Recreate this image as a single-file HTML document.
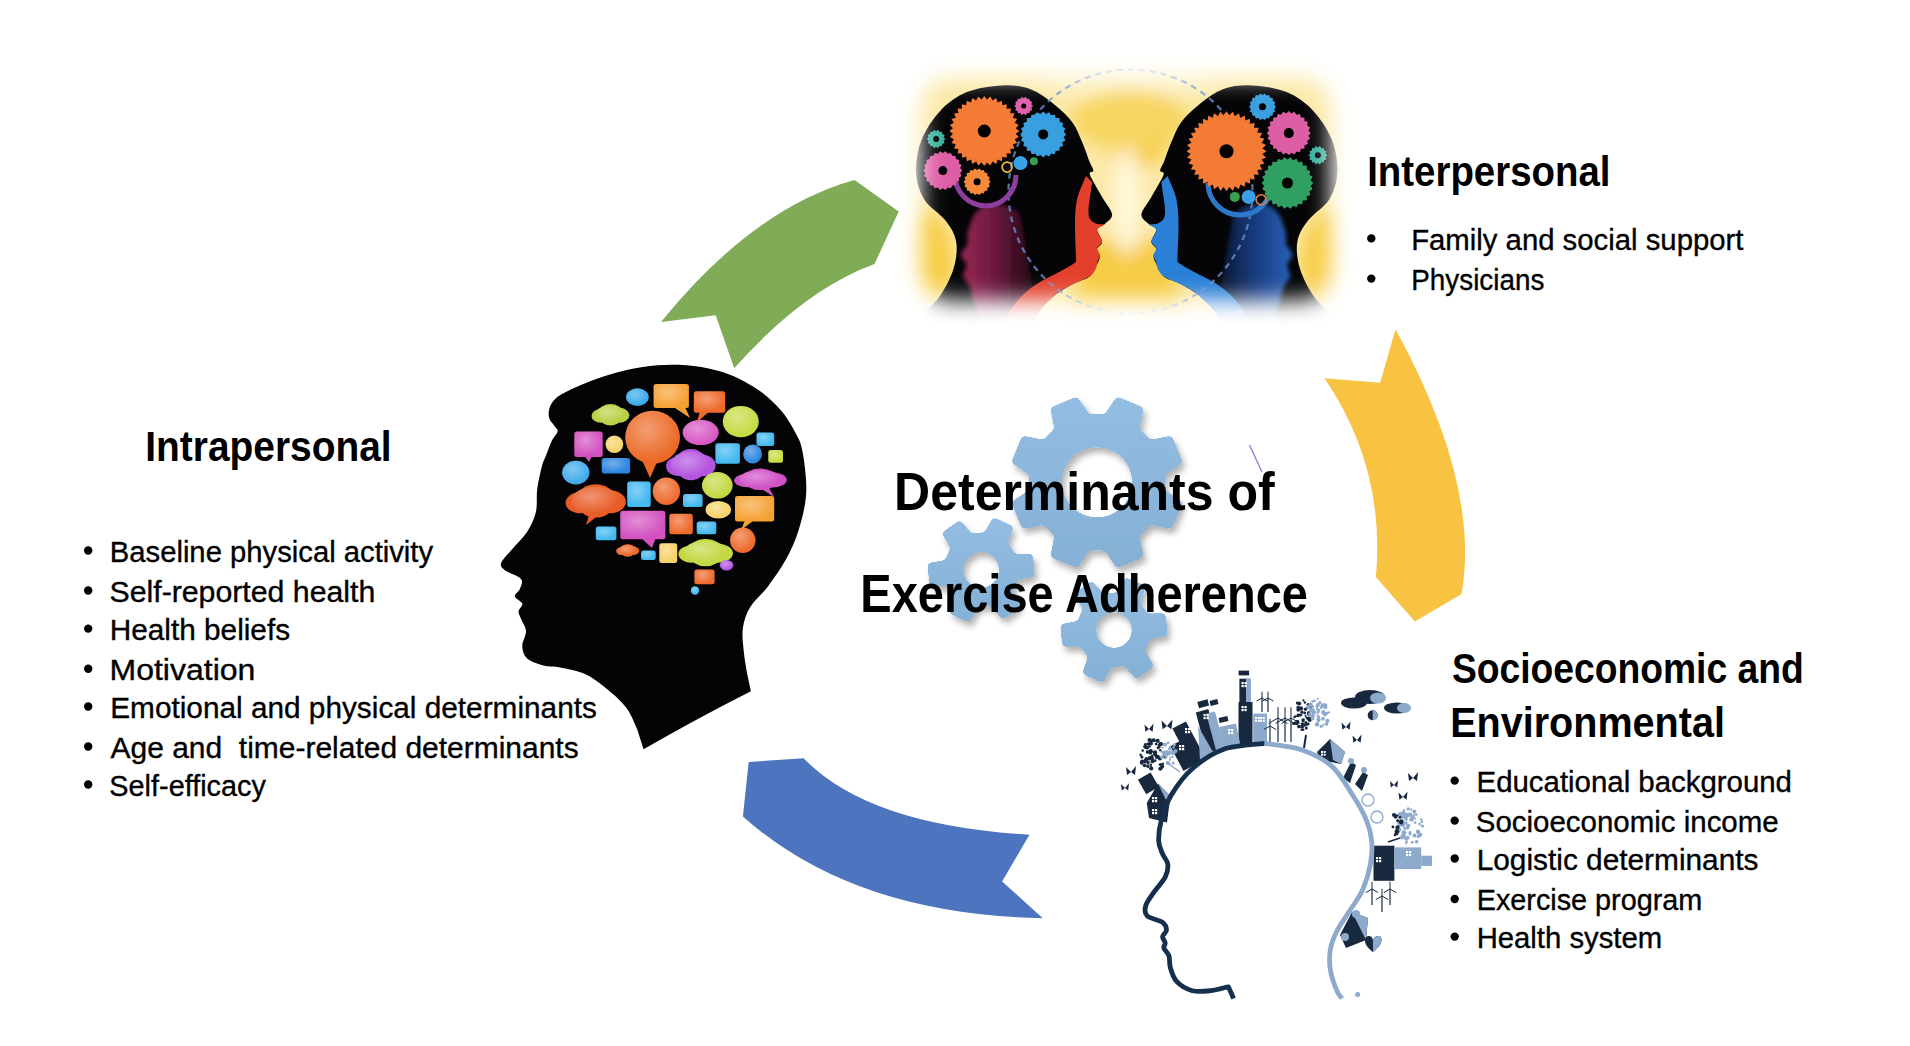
<!DOCTYPE html>
<html><head><meta charset="utf-8"><style>
html,body{margin:0;padding:0;background:#fff;width:1910px;height:1046px;overflow:hidden;}
svg{display:block;font-family:"Liberation Sans",sans-serif;}
</style></head><body><svg width="1910" height="1046" viewBox="0 0 1910 1046"><defs>
<filter id="gsh" x="-20%" y="-20%" width="140%" height="140%"><feGaussianBlur in="SourceGraphic" stdDeviation="2.2" result="b"/><feColorMatrix in="b" type="matrix" values="1 0 0 0 0  0 1 0 0 0  0 0 1 0 0  0 0 0 16 -7" result="g"/><feDropShadow in="g" dx="3" dy="5" stdDeviation="3" flood-color="#000" flood-opacity="0.3"/></filter>
<radialGradient id="hl" cx="0.4" cy="0.35" r="0.6"><stop offset="0" stop-color="#fff" stop-opacity="0.35"/><stop offset="1" stop-color="#fff" stop-opacity="0"/></radialGradient>
<linearGradient id="gg" x1="0" y1="0" x2="0" y2="1"><stop offset="0" stop-color="#93bde2"/><stop offset="1" stop-color="#85b0d5"/></linearGradient>

<linearGradient id="mar" x1="955" y1="0" x2="1035" y2="0" gradientUnits="userSpaceOnUse"><stop offset="0" stop-color="#a02858"/><stop offset="0.5" stop-color="#6a1840"/><stop offset="1" stop-color="#200810"/></linearGradient>
<linearGradient id="nav" x1="955" y1="0" x2="1035" y2="0" gradientUnits="userSpaceOnUse"><stop offset="0" stop-color="#2a68c0"/><stop offset="0.5" stop-color="#1a3f85"/><stop offset="1" stop-color="#0a1530"/></linearGradient>
<radialGradient id="ybg" cx="1127" cy="195" r="240" gradientUnits="userSpaceOnUse" gradientTransform="translate(1127 195) scale(1 0.7) translate(-1127 -195)">
<stop offset="0" stop-color="#fdf2c0"/><stop offset="0.35" stop-color="#fae08a"/><stop offset="0.75" stop-color="#f7cf48"/><stop offset="1" stop-color="#f9dc70"/></radialGradient>
<filter id="bl2"><feGaussianBlur stdDeviation="2"/></filter>
<filter id="bl4" x="-50%" y="-50%" width="200%" height="200%"><feGaussianBlur stdDeviation="5"/></filter>
<filter id="bl8" x="-30%" y="-30%" width="160%" height="160%"><feGaussianBlur stdDeviation="9"/></filter>
<filter id="bl12" x="-20%" y="-20%" width="140%" height="140%"><feGaussianBlur stdDeviation="11"/></filter>
<mask id="vig" maskUnits="userSpaceOnUse" x="860" y="30" width="540" height="340"><rect x="921" y="78" width="410" height="222" rx="30" fill="#fff" filter="url(#bl12)"/></mask>
</defs>
<path d="M661,322 Q753.6,207.8 854.6,180 L898.7,211.5 L874.5,264.1 Q803.85,289.85 734.2,368.2 L715.7,315.2 Z" fill="#80ac57"/>
<path d="M1395.5,329.2 Q1480.65,484.45 1461.6,593.9 L1414.8,621.5 L1375.9,577.1 Q1385.8,468.35 1324.5,378.2 L1380.2,382.7 Z" fill="#f8c243"/>
<path d="M748.7,762 L803.6,758.2 Q867.7,825.15 1029.4,834.7 L1002.1,881.5 L1042.8,918.2 Q853.15,914.85 742.9,816.5 Z" fill="#4c74bf"/>
<g mask="url(#vig)">
<rect x="880" y="50" width="490" height="300" fill="#fbe9a8"/>
<g filter="url(#bl8)">
<ellipse cx="925" cy="265" rx="28" ry="55" fill="#f7ca3c"/>
<ellipse cx="1330" cy="265" rx="28" ry="55" fill="#f7ca3c"/>
<path d="M1108,88 L1165,88 L1170,150 L1140,172 L1112,160 Z" fill="#f7c93a"/>
<path d="M1085,240 L1170,240 L1185,320 L1070,320 Z" fill="#f7cc45"/>
<ellipse cx="1127" cy="200" rx="14" ry="55" fill="#fff8dc"/>
<ellipse cx="1127" cy="80" rx="90" ry="20" fill="#fcefc0"/>
<ellipse cx="1130" cy="120" rx="60" ry="30" fill="#f8d560"/>
</g>
<g id="ihl">
<path d="M905,345 C907.7,340.3 915.5,325.2 921.4,317.0 C927.3,308.8 934.9,303.6 940.2,295.6 C945.6,287.6 950.8,277.7 953.5,268.8 C956.2,259.9 957.5,250.0 956.2,242.0 C954.9,234.0 950.9,227.7 945.5,220.6 C940.1,213.5 929.0,207.2 924.1,199.2 C919.2,191.2 916.6,182.2 916.1,172.4 C915.6,162.6 917.4,150.6 921.4,140.3 C925.4,130.1 932.6,118.9 940.2,110.9 C947.8,102.9 956.6,96.3 966.9,92.1 C977.1,87.8 991.2,85.9 1001.7,85.4 C1012.2,84.9 1021.1,85.8 1030.0,89.0 C1038.9,92.2 1047.9,99.4 1054.9,104.9 C1062.0,110.5 1067.8,116.1 1072.3,122.3 C1076.8,128.5 1079.3,135.6 1082.2,142.2 C1085.1,148.8 1087.8,157.3 1089.7,162.1 C1091.6,166.9 1093.4,168.7 1093.4,170.8 C1093.5,173.0 1088.5,170.7 1090.0,175.0 C1091.5,179.3 1098.4,190.3 1102.1,196.9 C1105.8,203.5 1111.7,209.8 1112.1,214.3 C1112.5,218.9 1107.1,221.7 1104.6,224.2 C1102.1,226.7 1097.5,226.3 1097.1,229.2 C1096.7,232.1 1102.1,238.4 1102.1,241.7 C1102.1,245.0 1097.4,246.7 1097.1,249.1 C1096.8,251.5 1100.0,253.5 1100.0,256.0 C1100.0,258.5 1098.8,260.6 1097.1,264.0 C1095.4,267.4 1093.4,273.3 1089.7,276.5 C1086.0,279.7 1080.8,279.9 1075.0,283.0 C1069.2,286.1 1060.8,290.5 1055.0,295.0 C1049.2,299.5 1044.5,304.2 1040.0,310.0 C1035.5,315.8 1031.3,324.2 1028.0,330.0 C1024.7,335.8 1021.3,342.5 1020.0,345.0 Z" fill="#050507"/>
<path d="M978,345 L978,316 C975,305 972,295 970,287 C966,280 962,277 963.5,274 C965,270 967,266 966,263 C962,258 960,255 962,252 C965,248 968,245 967.5,242 C967,235 968,230 970,226 C972,218 975,212 982,207 C992,201 1010,204 1020,214 L1035,300 L1030,345 Z" fill="url(#mar)" filter="url(#bl2)"/>
<path d="M1086,176 L1092,182 C1091,195 1087,208 1089,217 C1091,223 1098,225 1104.6,224.2 C1101,227 1097,228 1097.1,231 C1098,235 1102,238 1102.1,241.7 C1101,245 1097,246 1097.1,249.1 C1098,252 1100,253 1100,256 C1099,259 1097,261 1097.1,264 C1096,270 1093,274 1089.7,276.5 C1083,280 1078,282 1075,283 C1068,287 1060,290 1055,295 C1050,300 1044,305 1040,310 C1035,317 1031,323 1028,330 L1020,345 L995,345 C1000,330 1006,318 1012,308 C1020,296 1030,288 1040,282 C1055,274 1068,268 1076,262 C1076,250 1075,240 1075,225 C1075,210 1076,200 1080,190 Z" fill="#e2402c"/>
</g>
<g transform="translate(2253.5,0) scale(-1,1)">
<path d="M905,345 C907.7,340.3 915.5,325.2 921.4,317.0 C927.3,308.8 934.9,303.6 940.2,295.6 C945.6,287.6 950.8,277.7 953.5,268.8 C956.2,259.9 957.5,250.0 956.2,242.0 C954.9,234.0 950.9,227.7 945.5,220.6 C940.1,213.5 929.0,207.2 924.1,199.2 C919.2,191.2 916.6,182.2 916.1,172.4 C915.6,162.6 917.4,150.6 921.4,140.3 C925.4,130.1 932.6,118.9 940.2,110.9 C947.8,102.9 956.6,96.3 966.9,92.1 C977.1,87.8 991.2,85.9 1001.7,85.4 C1012.2,84.9 1021.1,85.8 1030.0,89.0 C1038.9,92.2 1047.9,99.4 1054.9,104.9 C1062.0,110.5 1067.8,116.1 1072.3,122.3 C1076.8,128.5 1079.3,135.6 1082.2,142.2 C1085.1,148.8 1087.8,157.3 1089.7,162.1 C1091.6,166.9 1093.4,168.7 1093.4,170.8 C1093.5,173.0 1088.5,170.7 1090.0,175.0 C1091.5,179.3 1098.4,190.3 1102.1,196.9 C1105.8,203.5 1111.7,209.8 1112.1,214.3 C1112.5,218.9 1107.1,221.7 1104.6,224.2 C1102.1,226.7 1097.5,226.3 1097.1,229.2 C1096.7,232.1 1102.1,238.4 1102.1,241.7 C1102.1,245.0 1097.4,246.7 1097.1,249.1 C1096.8,251.5 1100.0,253.5 1100.0,256.0 C1100.0,258.5 1098.8,260.6 1097.1,264.0 C1095.4,267.4 1093.4,273.3 1089.7,276.5 C1086.0,279.7 1080.8,279.9 1075.0,283.0 C1069.2,286.1 1060.8,290.5 1055.0,295.0 C1049.2,299.5 1044.5,304.2 1040.0,310.0 C1035.5,315.8 1031.3,324.2 1028.0,330.0 C1024.7,335.8 1021.3,342.5 1020.0,345.0 Z" fill="#050507"/>
<path d="M978,345 L978,316 C975,305 972,295 970,287 C966,280 962,277 963.5,274 C965,270 967,266 966,263 C962,258 960,255 962,252 C965,248 968,245 967.5,242 C967,235 968,230 970,226 C972,218 975,212 982,207 C992,201 1010,204 1020,214 L1035,300 L1030,345 Z" fill="url(#nav)" filter="url(#bl2)"/>
<path d="M1086,176 L1092,182 C1091,195 1087,208 1089,217 C1091,223 1098,225 1104.6,224.2 C1101,227 1097,228 1097.1,231 C1098,235 1102,238 1102.1,241.7 C1101,245 1097,246 1097.1,249.1 C1098,252 1100,253 1100,256 C1099,259 1097,261 1097.1,264 C1096,270 1093,274 1089.7,276.5 C1083,280 1078,282 1075,283 C1068,287 1060,290 1055,295 C1050,300 1044,305 1040,310 C1035,317 1031,323 1028,330 L1020,345 L995,345 C1000,330 1006,318 1012,308 C1020,296 1030,288 1040,282 C1055,274 1068,268 1076,262 C1076,250 1075,240 1075,225 C1075,210 1076,200 1080,190 Z" fill="#2a7fd6"/>
</g>
<circle cx="1130.5" cy="191.5" r="122" fill="none" stroke="#6a90d0" stroke-width="2.2" stroke-dasharray="6 5" opacity="0.8"/>
<path d="M985.7,205.9 A30.8,30.8 0 0 1 955,175" fill="none" stroke="#8e3f9e" stroke-width="5"/>
<path d="M1016,175 A30.8,30.8 0 0 1 985.7,205.9" fill="none" stroke="#8e3f9e" stroke-width="5"/>
<path d="M1240,215 A32,32 0 0 1 1208,183" fill="none" stroke="#2d78c8" stroke-width="5"/>
<path d="M1272,183 A32,32 0 0 1 1240,215" fill="none" stroke="#2d78c8" stroke-width="5"/>
<path d="M1019.3,131.0 L1015.7,133.7 L1018.8,137.1 L1014.7,139.2 L1017.2,143.0 L1012.8,144.3 L1014.6,148.5 L1010.1,149.1 L1011.1,153.5 L1006.6,153.3 L1006.8,157.8 L1002.4,156.8 L1001.8,161.3 L997.6,159.5 L996.3,163.9 L992.5,161.4 L990.4,165.5 L987.0,162.4 L984.3,166.0 L981.6,162.4 L978.2,165.5 L976.1,161.4 L972.3,163.9 L971.0,159.5 L966.8,161.3 L966.2,156.8 L961.8,157.8 L962.0,153.3 L957.5,153.5 L958.5,149.1 L954.0,148.5 L955.8,144.3 L951.4,143.0 L953.9,139.2 L949.8,137.1 L952.9,133.7 L949.3,131.0 L952.9,128.3 L949.8,124.9 L953.9,122.8 L951.4,119.0 L955.8,117.7 L954.0,113.5 L958.5,112.9 L957.5,108.5 L962.0,108.7 L961.8,104.2 L966.2,105.2 L966.8,100.7 L971.0,102.5 L972.3,98.1 L976.1,100.6 L978.2,96.5 L981.6,99.6 L984.3,96.0 L987.0,99.6 L990.4,96.5 L992.5,100.6 L996.3,98.1 L997.6,102.5 L1001.8,100.7 L1002.4,105.2 L1006.8,104.2 L1006.6,108.7 L1011.1,108.5 L1010.1,112.9 L1014.6,113.5 L1012.8,117.7 L1017.2,119.0 L1014.7,122.8 L1018.8,124.9 L1015.7,128.3 Z" fill="#f47b35" /><circle cx="984.3" cy="131.0" r="6.5" fill="#000"/><path d="M1066.2,134.4 L1063.7,137.1 L1065.4,140.4 L1062.3,142.3 L1063.1,145.9 L1059.6,147.0 L1059.5,150.7 L1055.8,150.8 L1054.7,154.3 L1051.1,153.5 L1049.2,156.6 L1045.9,154.9 L1043.2,157.4 L1040.5,154.9 L1037.2,156.6 L1035.3,153.5 L1031.7,154.3 L1030.6,150.8 L1026.9,150.7 L1026.8,147.0 L1023.3,145.9 L1024.1,142.3 L1021.0,140.4 L1022.7,137.1 L1020.2,134.4 L1022.7,131.7 L1021.0,128.4 L1024.1,126.5 L1023.3,122.9 L1026.8,121.8 L1026.9,118.1 L1030.6,118.0 L1031.7,114.5 L1035.3,115.3 L1037.2,112.2 L1040.5,113.9 L1043.2,111.4 L1045.9,113.9 L1049.2,112.2 L1051.1,115.3 L1054.7,114.5 L1055.8,118.0 L1059.5,118.1 L1059.6,121.8 L1063.1,122.9 L1062.3,126.5 L1065.4,128.4 L1063.7,131.7 Z" fill="#3a9fdf" /><circle cx="1043.2" cy="134.4" r="5.0" fill="#000"/><path d="M962.3,170.6 L960.2,173.1 L961.5,176.1 L958.8,177.9 L959.2,181.1 L956.1,182.1 L955.6,185.3 L952.3,185.4 L950.9,188.3 L947.7,187.4 L945.6,189.9 L942.8,188.2 L940.0,189.9 L937.9,187.4 L934.7,188.3 L933.3,185.4 L930.0,185.3 L929.5,182.1 L926.4,181.1 L926.8,177.9 L924.1,176.1 L925.4,173.1 L923.3,170.6 L925.4,168.1 L924.1,165.1 L926.8,163.3 L926.4,160.1 L929.5,159.1 L930.0,155.9 L933.3,155.8 L934.7,152.9 L937.9,153.8 L940.0,151.3 L942.8,153.0 L945.6,151.3 L947.7,153.8 L950.9,152.9 L952.3,155.8 L955.6,155.9 L956.1,159.1 L959.2,160.1 L958.8,163.3 L961.5,165.1 L960.2,168.1 Z" fill="#de5ea5" /><circle cx="942.8" cy="170.6" r="4.5" fill="#000"/><path d="M990.6,181.8 L988.8,183.9 L989.8,186.4 L987.4,187.8 L987.4,190.5 L984.7,190.9 L983.9,193.5 L981.2,193.0 L979.4,195.1 L977.1,193.7 L974.8,195.1 L973.0,193.0 L970.4,193.5 L969.5,190.9 L966.8,190.5 L966.8,187.8 L964.4,186.4 L965.4,183.9 L963.6,181.8 L965.4,179.7 L964.4,177.2 L966.8,175.9 L966.8,173.1 L969.5,172.7 L970.4,170.1 L973.0,170.6 L974.8,168.5 L977.1,169.9 L979.4,168.5 L981.2,170.6 L983.9,170.1 L984.7,172.7 L987.4,173.1 L987.4,175.9 L989.8,177.2 L988.8,179.7 Z" fill="#f58a3a" /><circle cx="977.1" cy="181.8" r="3.5" fill="#000"/><path d="M1033.1,106.0 L1031.3,107.7 L1032.2,110.1 L1029.8,110.9 L1029.6,113.3 L1027.1,113.0 L1025.8,115.2 L1023.7,113.8 L1021.6,115.2 L1020.3,113.0 L1017.8,113.3 L1017.6,110.9 L1015.2,110.1 L1016.1,107.7 L1014.3,106.0 L1016.1,104.3 L1015.2,101.9 L1017.6,101.1 L1017.8,98.7 L1020.3,99.0 L1021.6,96.8 L1023.7,98.2 L1025.8,96.8 L1027.1,99.0 L1029.6,98.7 L1029.8,101.1 L1032.2,101.9 L1031.3,104.3 Z" fill="#e060b0" /><circle cx="1023.7" cy="106.0" r="2.5" fill="#000"/><path d="M945.5,139.0 L943.7,140.7 L944.6,143.1 L942.2,143.9 L942.0,146.3 L939.5,146.0 L938.2,148.2 L936.1,146.8 L934.0,148.2 L932.7,146.0 L930.2,146.3 L930.0,143.9 L927.6,143.1 L928.5,140.7 L926.7,139.0 L928.5,137.3 L927.6,134.9 L930.0,134.1 L930.2,131.7 L932.7,132.0 L934.0,129.8 L936.1,131.2 L938.2,129.8 L939.5,132.0 L942.0,131.7 L942.2,134.1 L944.6,134.9 L943.7,137.3 Z" fill="#3bb0a0" /><circle cx="936.1" cy="139.0" r="3.0" fill="#000"/>
<path d="M1266.5,151.2 L1262.4,154.0 L1266.0,157.5 L1261.5,159.6 L1264.5,163.6 L1259.8,165.0 L1262.1,169.4 L1257.2,170.0 L1258.9,174.7 L1253.9,174.6 L1254.8,179.5 L1249.9,178.6 L1250.0,183.6 L1245.3,181.9 L1244.7,186.8 L1240.3,184.5 L1238.9,189.2 L1234.9,186.2 L1232.8,190.7 L1229.3,187.1 L1226.5,191.2 L1223.7,187.1 L1220.2,190.7 L1218.1,186.2 L1214.1,189.2 L1212.7,184.5 L1208.3,186.8 L1207.7,181.9 L1203.0,183.6 L1203.1,178.6 L1198.2,179.5 L1199.1,174.6 L1194.1,174.7 L1195.8,170.0 L1190.9,169.4 L1193.2,165.0 L1188.5,163.6 L1191.5,159.6 L1187.0,157.5 L1190.6,154.0 L1186.5,151.2 L1190.6,148.4 L1187.0,144.9 L1191.5,142.8 L1188.5,138.8 L1193.2,137.4 L1190.9,133.0 L1195.8,132.4 L1194.1,127.7 L1199.1,127.8 L1198.2,122.9 L1203.1,123.8 L1203.0,118.8 L1207.7,120.5 L1208.3,115.6 L1212.7,117.9 L1214.1,113.2 L1218.1,116.2 L1220.2,111.7 L1223.7,115.3 L1226.5,111.2 L1229.3,115.3 L1232.8,111.7 L1234.9,116.2 L1238.9,113.2 L1240.3,117.9 L1244.7,115.6 L1245.3,120.5 L1250.0,118.8 L1249.9,123.8 L1254.8,122.9 L1253.9,127.8 L1258.9,127.7 L1257.2,132.4 L1262.1,133.0 L1259.8,137.4 L1264.5,138.8 L1261.5,142.8 L1266.0,144.9 L1262.4,148.4 Z" fill="#f47b35" /><circle cx="1226.5" cy="151.2" r="7.0" fill="#000"/><path d="M1310.8,133.1 L1308.4,135.7 L1310.1,138.8 L1307.1,140.7 L1307.9,144.1 L1304.5,145.2 L1304.4,148.7 L1300.9,148.8 L1299.8,152.2 L1296.4,151.4 L1294.5,154.4 L1291.4,152.7 L1288.8,155.1 L1286.2,152.7 L1283.1,154.4 L1281.2,151.4 L1277.8,152.2 L1276.7,148.8 L1273.2,148.7 L1273.1,145.2 L1269.7,144.1 L1270.5,140.7 L1267.5,138.8 L1269.2,135.7 L1266.8,133.1 L1269.2,130.5 L1267.5,127.4 L1270.5,125.5 L1269.7,122.1 L1273.1,121.0 L1273.2,117.5 L1276.7,117.4 L1277.8,114.0 L1281.2,114.8 L1283.1,111.8 L1286.2,113.5 L1288.8,111.1 L1291.4,113.5 L1294.5,111.8 L1296.4,114.8 L1299.8,114.0 L1300.9,117.4 L1304.4,117.5 L1304.5,121.0 L1307.9,122.1 L1307.1,125.5 L1310.1,127.4 L1308.4,130.5 Z" fill="#de5ea5" /><circle cx="1288.8" cy="133.1" r="5.0" fill="#000"/><path d="M1313.4,183.0 L1310.6,185.8 L1312.6,189.2 L1309.3,191.3 L1310.4,195.1 L1306.7,196.3 L1306.9,200.2 L1302.9,200.5 L1302.2,204.4 L1298.3,203.7 L1296.6,207.3 L1293.0,205.7 L1290.5,208.8 L1287.4,206.4 L1284.3,208.8 L1281.8,205.7 L1278.2,207.3 L1276.5,203.7 L1272.6,204.4 L1271.9,200.5 L1267.9,200.2 L1268.1,196.3 L1264.4,195.1 L1265.5,191.3 L1262.2,189.2 L1264.2,185.8 L1261.4,183.0 L1264.2,180.2 L1262.2,176.8 L1265.5,174.7 L1264.4,170.9 L1268.1,169.7 L1267.9,165.8 L1271.9,165.5 L1272.6,161.6 L1276.5,162.3 L1278.2,158.7 L1281.8,160.3 L1284.3,157.2 L1287.4,159.6 L1290.5,157.2 L1293.0,160.3 L1296.6,158.7 L1298.3,162.3 L1302.2,161.6 L1302.9,165.5 L1306.9,165.8 L1306.7,169.7 L1310.4,170.9 L1309.3,174.7 L1312.6,176.8 L1310.6,180.2 Z" fill="#2f9f62" /><circle cx="1287.4" cy="183.0" r="5.5" fill="#000"/><path d="M1276.0,106.8 L1274.2,108.9 L1275.2,111.4 L1272.8,112.8 L1272.8,115.5 L1270.1,115.9 L1269.2,118.5 L1266.6,118.0 L1264.8,120.1 L1262.5,118.7 L1260.2,120.1 L1258.4,118.0 L1255.8,118.5 L1254.9,115.9 L1252.2,115.5 L1252.2,112.8 L1249.8,111.4 L1250.8,108.9 L1249.0,106.8 L1250.8,104.7 L1249.8,102.2 L1252.2,100.8 L1252.2,98.1 L1254.9,97.7 L1255.8,95.1 L1258.4,95.6 L1260.2,93.5 L1262.5,94.9 L1264.8,93.5 L1266.6,95.6 L1269.2,95.1 L1270.1,97.7 L1272.8,98.1 L1272.8,100.8 L1275.2,102.2 L1274.2,104.7 Z" fill="#3a9fdf" /><circle cx="1262.5" cy="106.8" r="3.5" fill="#000"/><path d="M1327.3,155.3 L1325.5,157.0 L1326.4,159.4 L1324.0,160.2 L1323.8,162.6 L1321.3,162.3 L1320.0,164.5 L1317.9,163.1 L1315.8,164.5 L1314.5,162.3 L1312.0,162.6 L1311.8,160.2 L1309.4,159.4 L1310.3,157.0 L1308.5,155.3 L1310.3,153.6 L1309.4,151.2 L1311.8,150.4 L1312.0,148.0 L1314.5,148.3 L1315.8,146.1 L1317.9,147.5 L1320.0,146.1 L1321.3,148.3 L1323.8,148.0 L1324.0,150.4 L1326.4,151.2 L1325.5,153.6 Z" fill="#3bb0a0" /><circle cx="1317.9" cy="155.3" r="3.0" fill="#000"/>
<circle cx="1020.5" cy="163.1" r="7" fill="#3aa0e8"/>
<circle cx="1033.9" cy="161.2" r="4" fill="#3aa050"/>
<circle cx="1007.1" cy="167.1" r="5" fill="none" stroke="#f0c030" stroke-width="1.6"/>
<circle cx="1248.6" cy="196.9" r="7" fill="#3aa0e8"/>
<circle cx="1234.8" cy="196.9" r="5" fill="#3aa050"/>
<circle cx="1261.1" cy="199.7" r="5" fill="none" stroke="#f08030" stroke-width="1.6"/>
</g><path d="M643.5,749.3 L637.2,729.3 C635.5,725.8 631.7,714.9 626.7,708.2 C621.7,701.5 614.0,694.7 607.0,689.0 C600.0,683.3 592.8,677.6 585.0,674.0 C577.2,670.4 566.7,668.9 560.0,667.5 C553.3,666.1 550.1,667.3 544.6,665.8 C539.1,664.3 530.9,661.7 527.2,658.4 C523.5,655.1 522.5,650.5 522.3,646.0 C522.1,641.5 526.2,635.6 526.0,631.1 C525.8,626.6 522.2,622.0 521.0,618.7 C519.8,615.4 518.4,613.7 518.6,611.2 C518.8,608.7 522.9,606.3 522.3,603.8 C521.7,601.3 515.2,598.8 514.8,596.3 C514.4,593.8 518.8,591.8 519.8,588.9 C520.8,586.0 523.5,582.0 521.0,578.9 C518.5,575.8 508.2,572.9 504.9,570.2 C501.6,567.5 500.0,566.3 501.2,562.8 C502.4,559.3 508.0,554.3 512.3,549.1 C516.6,543.9 523.3,537.9 527.2,531.7 C531.1,525.5 534.2,518.9 535.9,511.9 C537.6,504.9 536.2,497.1 537.2,489.5 C538.2,481.9 540.5,471.6 542.0,466.0 C543.5,460.4 544.4,459.8 546.0,455.6 C547.6,451.4 549.8,444.9 551.7,440.9 C553.6,436.9 557.1,433.8 557.6,431.4 C558.1,428.9 556.1,428.3 554.7,426.2 C553.4,424.1 550.5,421.7 549.5,419.0 C548.5,416.3 548.4,412.9 549.0,410.0 C549.6,407.1 551.0,404.0 553.2,401.3 C555.4,398.6 556.9,396.9 562.0,394.0 C567.1,391.1 575.5,387.1 584.0,383.7 C592.5,380.3 603.5,376.3 613.3,373.5 C623.1,370.7 632.8,368.4 642.6,366.9 C652.4,365.4 662.1,364.7 671.9,364.7 C681.7,364.7 691.5,365.2 701.3,366.9 C711.1,368.6 720.8,370.9 730.6,374.9 C740.4,378.9 751.4,384.9 759.9,391.0 C768.4,397.1 775.8,404.3 781.9,411.6 C788.0,418.9 793.2,428.6 796.6,435.0 C800.0,441.4 800.6,442.6 802.2,450.0 C803.8,457.4 805.5,470.7 806.0,479.6 C806.5,488.5 806.5,494.4 805.1,503.3 C803.7,512.2 800.9,523.5 797.7,532.9 C794.5,542.3 790.8,550.7 785.9,559.6 C781.0,568.5 774.0,578.3 768.1,586.2 C762.2,594.1 754.5,600.0 750.3,606.9 C746.1,613.8 744.0,620.3 742.9,627.7 C741.8,635.1 743.0,643.5 743.8,651.4 C744.5,659.3 746.8,671.1 747.4,675.0 L750.9,691.3 Q700,717 643.5,749.3 Z" fill="#040406"/><ellipse cx="637.4" cy="397.1" rx="11.4" ry="8.8" fill="#38a9ea"/><ellipse cx="637.4" cy="397.1" rx="11.4" ry="8.8" fill="url(#hl)"/><rect x="653.6" y="384.0" width="35.3" height="23.9" rx="2.5" fill="#f5a235"/><rect x="653.6" y="384.0" width="35.3" height="23.9" rx="2.5" fill="url(#hl)"/><rect x="693.8" y="391.3" width="31.4" height="21.5" rx="2.5" fill="#ee6a2c"/><rect x="693.8" y="391.3" width="31.4" height="21.5" rx="2.5" fill="url(#hl)"/><g fill="#b9d146"><ellipse cx="601.0" cy="415.9" rx="9.5" ry="6.8"/><ellipse cx="610.5" cy="412.1" rx="11.2" ry="8.1"/><ellipse cx="619.1" cy="415.3" rx="10.3" ry="7.5"/><ellipse cx="610.5" cy="418.0" rx="10.3" ry="7.5"/><ellipse cx="605.3" cy="412.6" rx="8.6" ry="6.2"/><ellipse cx="615.7" cy="412.6" rx="8.6" ry="6.2"/></g><ellipse cx="610.5" cy="414.8" rx="15.5" ry="9.2" fill="url(#hl)"/><ellipse cx="652.6" cy="437.3" rx="27.4" ry="26.5" fill="#ec6a27"/><ellipse cx="652.6" cy="437.3" rx="27.4" ry="26.5" fill="url(#hl)"/><ellipse cx="700.7" cy="432.4" rx="18.0" ry="12.7" fill="#d757c4"/><ellipse cx="700.7" cy="432.4" rx="18.0" ry="12.7" fill="url(#hl)"/><ellipse cx="740.8" cy="421.6" rx="18.0" ry="15.7" fill="#c6da42"/><ellipse cx="740.8" cy="421.6" rx="18.0" ry="15.7" fill="url(#hl)"/><rect x="574.3" y="431.4" width="28.4" height="25.5" rx="2.5" fill="#d352c0"/><rect x="574.3" y="431.4" width="28.4" height="25.5" rx="2.5" fill="url(#hl)"/><ellipse cx="614.4" cy="444.2" rx="8.8" ry="8.8" fill="#f8d26a"/><ellipse cx="614.4" cy="444.2" rx="8.8" ry="8.8" fill="url(#hl)"/><rect x="715.4" y="443.2" width="24.5" height="20.6" rx="2.5" fill="#44b9f0"/><rect x="715.4" y="443.2" width="24.5" height="20.6" rx="2.5" fill="url(#hl)"/><rect x="756.5" y="432.4" width="17.7" height="13.7" rx="2.5" fill="#44b9f0"/><rect x="756.5" y="432.4" width="17.7" height="13.7" rx="2.5" fill="url(#hl)"/><ellipse cx="752.6" cy="454.0" rx="9.4" ry="9.4" fill="#2d86de"/><ellipse cx="752.6" cy="454.0" rx="9.4" ry="9.4" fill="url(#hl)"/><rect x="768.3" y="450.0" width="14.7" height="12.8" rx="2.5" fill="#c9dc40"/><rect x="768.3" y="450.0" width="14.7" height="12.8" rx="2.5" fill="url(#hl)"/><g fill="#b455e0"><ellipse cx="678.5" cy="466.3" rx="12.4" ry="9.9"/><ellipse cx="690.9" cy="460.8" rx="14.6" ry="11.7"/><ellipse cx="702.1" cy="465.5" rx="13.5" ry="10.8"/><ellipse cx="690.9" cy="469.4" rx="13.5" ry="10.8"/><ellipse cx="684.1" cy="461.6" rx="11.2" ry="9.0"/><ellipse cx="697.6" cy="461.6" rx="11.2" ry="9.0"/></g><ellipse cx="690.9" cy="464.7" rx="20.2" ry="13.3" fill="url(#hl)"/><ellipse cx="575.8" cy="472.6" rx="13.7" ry="11.8" fill="#40aaec"/><ellipse cx="575.8" cy="472.6" rx="13.7" ry="11.8" fill="url(#hl)"/><rect x="601.7" y="457.9" width="28.4" height="15.7" rx="2.5" fill="#2b84e0"/><rect x="601.7" y="457.9" width="28.4" height="15.7" rx="2.5" fill="url(#hl)"/><ellipse cx="717.3" cy="485.3" rx="15.3" ry="13.3" fill="#c3d842"/><ellipse cx="717.3" cy="485.3" rx="15.3" ry="13.3" fill="url(#hl)"/><g fill="#d152c6"><ellipse cx="747.3" cy="480.5" rx="13.1" ry="6.8"/><ellipse cx="760.4" cy="476.7" rx="15.5" ry="8.1"/><ellipse cx="772.4" cy="479.9" rx="14.3" ry="7.5"/><ellipse cx="760.4" cy="482.6" rx="14.3" ry="7.5"/><ellipse cx="753.2" cy="477.2" rx="11.9" ry="6.2"/><ellipse cx="767.6" cy="477.2" rx="11.9" ry="6.2"/></g><ellipse cx="760.4" cy="479.4" rx="21.5" ry="9.2" fill="url(#hl)"/><g fill="#e85c27"><ellipse cx="580.7" cy="502.7" rx="15.1" ry="10.6"/><ellipse cx="595.8" cy="496.8" rx="17.8" ry="12.5"/><ellipse cx="609.5" cy="501.8" rx="16.4" ry="11.5"/><ellipse cx="595.8" cy="506.0" rx="16.4" ry="11.5"/><ellipse cx="587.6" cy="497.7" rx="13.7" ry="9.6"/><ellipse cx="604.0" cy="497.7" rx="13.7" ry="9.6"/></g><ellipse cx="595.8" cy="501.0" rx="24.7" ry="14.2" fill="url(#hl)"/><rect x="627.2" y="481.4" width="23.5" height="25.5" rx="2.5" fill="#44b9f0"/><rect x="627.2" y="481.4" width="23.5" height="25.5" rx="2.5" fill="url(#hl)"/><ellipse cx="666.4" cy="491.2" rx="13.7" ry="13.7" fill="#ee6a2c"/><ellipse cx="666.4" cy="491.2" rx="13.7" ry="13.7" fill="url(#hl)"/><rect x="683.0" y="494.1" width="19.6" height="12.8" rx="2.5" fill="#44b9f0"/><rect x="683.0" y="494.1" width="19.6" height="12.8" rx="2.5" fill="url(#hl)"/><ellipse cx="718.3" cy="509.8" rx="12.7" ry="8.8" fill="#f8d26a"/><ellipse cx="718.3" cy="509.8" rx="12.7" ry="8.8" fill="url(#hl)"/><rect x="735.0" y="496.1" width="39.2" height="25.5" rx="2.5" fill="#f5a235"/><rect x="735.0" y="496.1" width="39.2" height="25.5" rx="2.5" fill="url(#hl)"/><rect x="620.3" y="510.8" width="45.1" height="28.4" rx="2.5" fill="#d352c0"/><rect x="620.3" y="510.8" width="45.1" height="28.4" rx="2.5" fill="url(#hl)"/><rect x="669.3" y="513.7" width="23.5" height="20.6" rx="2.5" fill="#ee6a2c"/><rect x="669.3" y="513.7" width="23.5" height="20.6" rx="2.5" fill="url(#hl)"/><rect x="696.7" y="521.6" width="19.6" height="12.7" rx="2.5" fill="#44b9f0"/><rect x="696.7" y="521.6" width="19.6" height="12.7" rx="2.5" fill="url(#hl)"/><rect x="595.8" y="526.5" width="20.6" height="13.7" rx="2.5" fill="#44b9f0"/><rect x="595.8" y="526.5" width="20.6" height="13.7" rx="2.5" fill="url(#hl)"/><ellipse cx="742.8" cy="540.2" rx="12.7" ry="12.7" fill="#ee6a2c"/><ellipse cx="742.8" cy="540.2" rx="12.7" ry="12.7" fill="url(#hl)"/><g fill="#ee6a2c"><ellipse cx="621.9" cy="551.1" rx="5.8" ry="4.0"/><ellipse cx="627.7" cy="548.9" rx="6.8" ry="4.7"/><ellipse cx="633.0" cy="550.8" rx="6.3" ry="4.3"/><ellipse cx="627.7" cy="552.4" rx="6.3" ry="4.3"/><ellipse cx="624.6" cy="549.2" rx="5.2" ry="3.6"/><ellipse cx="630.9" cy="549.2" rx="5.2" ry="3.6"/></g><ellipse cx="627.7" cy="550.5" rx="9.5" ry="5.4" fill="url(#hl)"/><rect x="641.0" y="550.5" width="14.7" height="9.5" rx="2.5" fill="#44b9f0"/><rect x="641.0" y="550.5" width="14.7" height="9.5" rx="2.5" fill="url(#hl)"/><rect x="659.3" y="543.2" width="17.9" height="19.9" rx="2.5" fill="#f8d26a"/><rect x="659.3" y="543.2" width="17.9" height="19.9" rx="2.5" fill="url(#hl)"/><g fill="#c3d842"><ellipse cx="692.0" cy="554.0" rx="13.6" ry="8.7"/><ellipse cx="705.6" cy="549.2" rx="16.1" ry="10.2"/><ellipse cx="718.0" cy="553.3" rx="14.9" ry="9.5"/><ellipse cx="705.6" cy="556.7" rx="14.9" ry="9.5"/><ellipse cx="698.2" cy="549.9" rx="12.4" ry="7.9"/><ellipse cx="713.0" cy="549.9" rx="12.4" ry="7.9"/></g><ellipse cx="705.6" cy="552.6" rx="22.3" ry="11.6" fill="url(#hl)"/><ellipse cx="726.6" cy="565.2" rx="6.7" ry="5.3" fill="#b455e0"/><ellipse cx="726.6" cy="565.2" rx="6.7" ry="5.3" fill="url(#hl)"/><rect x="694.4" y="569.4" width="20.2" height="14.8" rx="2.5" fill="#ee6a2c"/><rect x="694.4" y="569.4" width="20.2" height="14.8" rx="2.5" fill="url(#hl)"/><ellipse cx="695.0" cy="590.5" rx="4.2" ry="4.2" fill="#44b9f0"/><ellipse cx="695.0" cy="590.5" rx="4.2" ry="4.2" fill="url(#hl)"/><g>
<path d="M642,460 L650,478 L657,462 Z" fill="#ec6a27"/>
<path d="M672,406 L690,418 L684,405 Z" fill="#f5a235"/>
<path d="M700,411 L697,422 L710,411 Z" fill="#ee6a2c"/>
<path d="M640,537 L652,548 L656,537 Z" fill="#d352c0"/>
<path d="M746,518 L741,530 L757,518 Z" fill="#f5a235"/>
<path d="M583,454 L589,462 L593,454 Z" fill="#d352c0"/>
<path d="M760,488 L774,497 L768,486 Z" fill="#d152c6"/>
<path d="M590,512 L586,525 L600,514 Z" fill="#e85c27"/>
</g><g><rect x="1238.6" y="670.6" width="10.5" height="4.8" fill="#17283f"/><rect x="1239.4" y="678.7" width="10.6" height="26.3" fill="#17283f"/><rect x="1246.0" y="678.7" width="5.0" height="26.3" fill="#8da9cc"/><rect x="1238.5" y="702.0" width="14.0" height="44.0" fill="#17283f"/><rect x="1241.5" y="682.0" width="2.2" height="2.2" fill="#fff"/><rect x="1241.5" y="685.0" width="2.2" height="2.2" fill="#fff"/><rect x="1244.5" y="682.0" width="2.2" height="2.2" fill="#fff"/><rect x="1244.5" y="685.0" width="2.2" height="2.2" fill="#fff"/><rect x="1241.5" y="706.0" width="2.2" height="2.2" fill="#fff"/><rect x="1241.5" y="709.0" width="2.2" height="2.2" fill="#fff"/><rect x="1244.5" y="706.0" width="2.2" height="2.2" fill="#fff"/><rect x="1244.5" y="709.0" width="2.2" height="2.2" fill="#fff"/><rect x="1253.2" y="713.6" width="13.8" height="30.4" fill="#8da9cc"/><rect x="1255.0" y="717.0" width="2.0" height="2.0" fill="#fff"/><rect x="1255.0" y="719.8" width="2.0" height="2.0" fill="#fff"/><rect x="1257.8" y="717.0" width="2.0" height="2.0" fill="#fff"/><rect x="1257.8" y="719.8" width="2.0" height="2.0" fill="#fff"/><rect x="1260.0" y="717.0" width="2.0" height="2.0" fill="#fff"/><rect x="1260.0" y="719.8" width="2.0" height="2.0" fill="#fff"/><rect x="1262.8" y="717.0" width="2.0" height="2.0" fill="#fff"/><rect x="1262.8" y="719.8" width="2.0" height="2.0" fill="#fff"/><rect x="1198.0" y="700.6" width="10.5" height="6.5" fill="#17283f" transform="rotate(-15.0 1203.2 703.9)"/><rect x="1201.0" y="710.0" width="13.0" height="42.0" fill="#17283f" transform="rotate(-15.0 1207.5 731.0)"/><rect x="1211.0" y="712.0" width="9.0" height="38.0" fill="#8da9cc" transform="rotate(-15.0 1215.5 731.0)"/><rect x="1203.5" y="714.0" width="2.2" height="2.2" fill="#fff"/><rect x="1203.5" y="717.0" width="2.2" height="2.2" fill="#fff"/><rect x="1206.5" y="714.0" width="2.2" height="2.2" fill="#fff"/><rect x="1206.5" y="717.0" width="2.2" height="2.2" fill="#fff"/><rect x="1210.0" y="700.0" width="8.0" height="5.0" fill="#17283f" transform="rotate(-15.0 1214.0 702.5)"/><rect x="1221.5" y="725.0" width="17.1" height="24.0" fill="#8da9cc" transform="rotate(-12.0 1230.0 737.0)"/><rect x="1219.0" y="717.0" width="9.0" height="5.0" fill="#17283f" transform="rotate(-12.0 1223.5 719.5)"/><rect x="1228.0" y="729.0" width="2.2" height="2.2" fill="#fff"/><rect x="1228.0" y="732.0" width="2.2" height="2.2" fill="#fff"/><rect x="1231.0" y="729.0" width="2.2" height="2.2" fill="#fff"/><rect x="1231.0" y="732.0" width="2.2" height="2.2" fill="#fff"/><rect x="1181.7" y="722.5" width="15.3" height="43.5" fill="#17283f" transform="rotate(-28.0 1189.3 744.2)"/><path d="M1198,726 L1213,752 L1200,760 Z" fill="#8da9cc"/><rect x="1185.0" y="728.0" width="2.2" height="2.2" fill="#fff"/><rect x="1185.0" y="731.0" width="2.2" height="2.2" fill="#fff"/><rect x="1188.0" y="728.0" width="2.2" height="2.2" fill="#fff"/><rect x="1188.0" y="731.0" width="2.2" height="2.2" fill="#fff"/><rect x="1176.0" y="741.0" width="15.0" height="28.0" fill="#17283f" transform="rotate(-28.0 1183.5 755.0)"/><rect x="1179.0" y="745.0" width="2.2" height="2.2" fill="#fff"/><rect x="1179.0" y="748.0" width="2.2" height="2.2" fill="#fff"/><rect x="1182.0" y="745.0" width="2.2" height="2.2" fill="#fff"/><rect x="1182.0" y="748.0" width="2.2" height="2.2" fill="#fff"/><g fill="#17283f"><circle cx="1148.4" cy="744.1" r="1.8"/><circle cx="1141.9" cy="757.2" r="1.4"/><circle cx="1141.5" cy="756.3" r="1.0"/><circle cx="1151.3" cy="741.4" r="1.1"/><circle cx="1151.0" cy="767.1" r="1.1"/><circle cx="1145.8" cy="760.3" r="2.1"/><circle cx="1155.0" cy="752.5" r="2.2"/><circle cx="1147.5" cy="743.9" r="1.1"/><circle cx="1148.0" cy="766.7" r="1.2"/><circle cx="1155.1" cy="760.7" r="1.4"/><circle cx="1154.2" cy="741.1" r="1.1"/><circle cx="1145.4" cy="762.1" r="1.5"/><circle cx="1148.2" cy="758.9" r="1.5"/><circle cx="1147.8" cy="766.0" r="1.8"/><circle cx="1146.3" cy="758.5" r="1.6"/><circle cx="1162.8" cy="763.8" r="1.3"/><circle cx="1150.9" cy="764.7" r="1.2"/><circle cx="1152.7" cy="740.3" r="1.8"/><circle cx="1159.9" cy="758.5" r="2.1"/><circle cx="1148.2" cy="762.6" r="1.7"/><circle cx="1155.1" cy="754.5" r="2.0"/><circle cx="1164.6" cy="755.1" r="1.8"/><circle cx="1141.6" cy="762.9" r="1.8"/><circle cx="1147.4" cy="752.1" r="1.8"/><circle cx="1140.6" cy="754.7" r="1.2"/><circle cx="1160.0" cy="743.4" r="1.3"/><circle cx="1150.2" cy="768.6" r="1.1"/><circle cx="1151.7" cy="757.7" r="2.1"/><circle cx="1161.3" cy="768.4" r="1.3"/><circle cx="1150.8" cy="751.2" r="2.1"/><circle cx="1144.6" cy="746.9" r="1.3"/><circle cx="1152.6" cy="759.0" r="1.3"/><circle cx="1149.6" cy="758.3" r="2.1"/><circle cx="1158.0" cy="756.5" r="1.7"/><circle cx="1157.6" cy="740.8" r="2.1"/><circle cx="1160.3" cy="768.7" r="2.0"/><circle cx="1150.2" cy="752.6" r="1.1"/><circle cx="1156.5" cy="741.1" r="1.1"/><circle cx="1145.4" cy="744.5" r="1.4"/><circle cx="1149.5" cy="739.9" r="2.0"/><circle cx="1156.0" cy="744.1" r="1.3"/><circle cx="1149.0" cy="751.4" r="1.1"/><circle cx="1152.1" cy="755.5" r="1.1"/><circle cx="1142.7" cy="750.6" r="1.3"/><circle cx="1161.6" cy="744.5" r="1.0"/><circle cx="1164.7" cy="757.0" r="1.2"/><circle cx="1154.1" cy="739.9" r="1.6"/><circle cx="1158.1" cy="747.9" r="1.4"/><circle cx="1144.3" cy="765.2" r="1.6"/><circle cx="1160.3" cy="750.2" r="1.3"/><circle cx="1162.2" cy="766.4" r="2.0"/><circle cx="1159.2" cy="746.7" r="1.6"/><circle cx="1149.2" cy="740.0" r="1.0"/><circle cx="1147.3" cy="747.8" r="1.8"/><circle cx="1164.9" cy="754.2" r="2.1"/><circle cx="1149.5" cy="746.5" r="1.3"/><circle cx="1145.1" cy="745.9" r="1.7"/><circle cx="1152.5" cy="761.2" r="2.0"/><circle cx="1142.2" cy="761.5" r="2.1"/><circle cx="1160.3" cy="764.5" r="1.6"/><circle cx="1144.6" cy="765.8" r="1.4"/><circle cx="1150.3" cy="752.6" r="2.1"/><circle cx="1158.8" cy="744.8" r="1.2"/><circle cx="1161.0" cy="744.0" r="2.0"/><circle cx="1149.1" cy="757.7" r="1.2"/><circle cx="1156.9" cy="756.9" r="2.1"/><circle cx="1151.3" cy="768.6" r="2.0"/><circle cx="1145.5" cy="747.6" r="1.4"/><circle cx="1146.3" cy="758.9" r="1.3"/><circle cx="1150.9" cy="743.5" r="2.1"/></g><g fill="#8da9cc"><circle cx="1166.7" cy="752.0" r="1.7"/><circle cx="1175.5" cy="751.1" r="2.1"/><circle cx="1169.0" cy="753.8" r="1.6"/><circle cx="1161.3" cy="751.6" r="1.2"/><circle cx="1163.8" cy="752.4" r="1.9"/><circle cx="1169.9" cy="748.8" r="1.6"/><circle cx="1169.9" cy="759.8" r="1.1"/><circle cx="1170.0" cy="747.0" r="1.3"/><circle cx="1173.4" cy="753.2" r="1.7"/><circle cx="1173.2" cy="762.9" r="1.5"/><circle cx="1170.8" cy="753.1" r="1.6"/><circle cx="1172.1" cy="751.9" r="1.6"/><circle cx="1168.6" cy="763.6" r="1.8"/><circle cx="1165.2" cy="754.4" r="2.1"/><circle cx="1174.4" cy="744.3" r="1.1"/><circle cx="1168.1" cy="742.7" r="1.3"/><circle cx="1162.2" cy="757.1" r="1.9"/><circle cx="1172.5" cy="756.8" r="1.2"/><circle cx="1167.4" cy="752.7" r="2.2"/><circle cx="1174.3" cy="744.9" r="1.5"/><circle cx="1169.2" cy="749.1" r="1.2"/><circle cx="1166.1" cy="758.3" r="1.0"/><circle cx="1169.9" cy="751.6" r="1.0"/><circle cx="1166.3" cy="756.0" r="1.6"/><circle cx="1162.7" cy="747.4" r="1.0"/><circle cx="1173.5" cy="747.5" r="1.2"/><circle cx="1167.8" cy="762.9" r="2.0"/><circle cx="1165.1" cy="744.6" r="2.1"/><circle cx="1170.1" cy="757.8" r="1.1"/><circle cx="1161.9" cy="757.5" r="1.5"/></g><line x1="1166" y1="762" x2="1180" y2="772" stroke="#8da9cc" stroke-width="1.5"/><rect x="1141.1" y="775.0" width="14.6" height="16.6" fill="#17283f" transform="rotate(-30.0 1148.4 783.3)"/><path d="M1146.8,803 L1158,783.5 L1170.4,796 L1167,822.4 L1149,818 Z" fill="#17283f"/><path d="M1158,783.5 L1170.4,796 L1166,800 Z" fill="#8da9cc"/><rect x="1152.0" y="797.0" width="2.2" height="2.2" fill="#fff"/><rect x="1152.0" y="800.0" width="2.2" height="2.2" fill="#fff"/><rect x="1155.0" y="797.0" width="2.2" height="2.2" fill="#fff"/><rect x="1155.0" y="800.0" width="2.2" height="2.2" fill="#fff"/><rect x="1152.0" y="809.0" width="2.2" height="2.2" fill="#fff"/><rect x="1152.0" y="812.0" width="2.2" height="2.2" fill="#fff"/><rect x="1155.0" y="809.0" width="2.2" height="2.2" fill="#fff"/><rect x="1155.0" y="812.0" width="2.2" height="2.2" fill="#fff"/><path d="M1149.0,729.0 l-4.5,-4.5 l0.9,7.2 z M1149.0,729.0 l4.5,-5.4 l-0.9,8.1 z" fill="#17283f"/><path d="M1167.0,726.0 l-5.5,-5.5 l1.1,8.8 z M1167.0,726.0 l5.5,-6.6 l-1.1,9.9 z" fill="#17283f"/><path d="M1131.0,772.0 l-5.0,-5.0 l1.0,8.0 z M1131.0,772.0 l5.0,-6.0 l-1.0,9.0 z" fill="#17283f"/><path d="M1125.0,788.0 l-4.0,-4.0 l0.8,6.4 z M1125.0,788.0 l4.0,-4.8 l-0.8,7.2 z" fill="#17283f"/><line x1="1270.0" y1="742.0" x2="1270.0" y2="726.0" stroke="#17283f" stroke-width="1.2"/><line x1="1270.0" y1="726.0" x2="1270.0" y2="718.8" stroke="#17283f" stroke-width="1"/><line x1="1270.0" y1="726.0" x2="1263.8" y2="729.6" stroke="#17283f" stroke-width="1"/><line x1="1270.0" y1="726.0" x2="1276.2" y2="729.6" stroke="#17283f" stroke-width="1"/><line x1="1278.0" y1="742.0" x2="1278.0" y2="718.0" stroke="#17283f" stroke-width="1.2"/><line x1="1278.0" y1="718.0" x2="1278.0" y2="707.2" stroke="#17283f" stroke-width="1"/><line x1="1278.0" y1="718.0" x2="1268.6" y2="723.4" stroke="#17283f" stroke-width="1"/><line x1="1278.0" y1="718.0" x2="1287.4" y2="723.4" stroke="#17283f" stroke-width="1"/><line x1="1285.0" y1="742.0" x2="1285.0" y2="718.0" stroke="#17283f" stroke-width="1.2"/><line x1="1285.0" y1="718.0" x2="1285.0" y2="707.2" stroke="#17283f" stroke-width="1"/><line x1="1285.0" y1="718.0" x2="1275.6" y2="723.4" stroke="#17283f" stroke-width="1"/><line x1="1285.0" y1="718.0" x2="1294.4" y2="723.4" stroke="#17283f" stroke-width="1"/><line x1="1291.0" y1="742.0" x2="1291.0" y2="718.0" stroke="#17283f" stroke-width="1.2"/><line x1="1291.0" y1="718.0" x2="1291.0" y2="707.2" stroke="#17283f" stroke-width="1"/><line x1="1291.0" y1="718.0" x2="1281.6" y2="723.4" stroke="#17283f" stroke-width="1"/><line x1="1291.0" y1="718.0" x2="1300.4" y2="723.4" stroke="#17283f" stroke-width="1"/><line x1="1262.0" y1="712.0" x2="1262.0" y2="698.0" stroke="#17283f" stroke-width="1.2"/><line x1="1262.0" y1="698.0" x2="1262.0" y2="691.7" stroke="#17283f" stroke-width="1"/><line x1="1262.0" y1="698.0" x2="1256.5" y2="701.1" stroke="#17283f" stroke-width="1"/><line x1="1262.0" y1="698.0" x2="1267.5" y2="701.1" stroke="#17283f" stroke-width="1"/><line x1="1268.0" y1="712.0" x2="1268.0" y2="698.0" stroke="#17283f" stroke-width="1.2"/><line x1="1268.0" y1="698.0" x2="1268.0" y2="691.7" stroke="#17283f" stroke-width="1"/><line x1="1268.0" y1="698.0" x2="1262.5" y2="701.1" stroke="#17283f" stroke-width="1"/><line x1="1268.0" y1="698.0" x2="1273.5" y2="701.1" stroke="#17283f" stroke-width="1"/><g fill="#17283f"><circle cx="1304.7" cy="725.7" r="1.1"/><circle cx="1309.3" cy="714.5" r="1.4"/><circle cx="1303.1" cy="729.7" r="1.3"/><circle cx="1294.6" cy="716.9" r="1.3"/><circle cx="1298.2" cy="709.8" r="1.9"/><circle cx="1297.8" cy="716.0" r="1.2"/><circle cx="1306.7" cy="717.6" r="1.2"/><circle cx="1301.5" cy="729.9" r="1.1"/><circle cx="1308.4" cy="713.8" r="1.6"/><circle cx="1308.7" cy="712.6" r="1.6"/><circle cx="1298.9" cy="726.6" r="1.8"/><circle cx="1304.7" cy="713.0" r="1.4"/><circle cx="1293.4" cy="723.7" r="1.3"/><circle cx="1305.4" cy="709.0" r="1.3"/><circle cx="1297.9" cy="714.7" r="1.2"/><circle cx="1300.9" cy="708.4" r="2.2"/><circle cx="1311.5" cy="717.5" r="1.3"/><circle cx="1299.6" cy="715.2" r="1.6"/><circle cx="1296.0" cy="716.2" r="1.0"/><circle cx="1297.3" cy="702.9" r="1.5"/><circle cx="1298.1" cy="707.4" r="1.7"/><circle cx="1302.6" cy="724.0" r="1.8"/><circle cx="1306.3" cy="728.1" r="1.5"/><circle cx="1295.0" cy="723.2" r="1.8"/><circle cx="1309.8" cy="720.1" r="1.9"/><circle cx="1308.2" cy="704.5" r="1.6"/><circle cx="1302.1" cy="726.7" r="2.0"/><circle cx="1308.5" cy="718.7" r="2.1"/><circle cx="1305.7" cy="722.2" r="1.3"/><circle cx="1299.2" cy="703.4" r="2.0"/><circle cx="1303.2" cy="720.1" r="1.8"/><circle cx="1305.6" cy="715.7" r="1.0"/><circle cx="1308.0" cy="723.9" r="1.6"/><circle cx="1302.7" cy="721.1" r="1.1"/><circle cx="1306.7" cy="708.1" r="1.1"/><circle cx="1297.3" cy="723.3" r="1.2"/><circle cx="1301.9" cy="712.2" r="1.6"/><circle cx="1305.7" cy="724.5" r="1.7"/><circle cx="1304.9" cy="702.5" r="1.2"/><circle cx="1297.1" cy="723.8" r="1.4"/><circle cx="1303.4" cy="700.4" r="1.1"/><circle cx="1297.4" cy="721.5" r="1.8"/><circle cx="1305.5" cy="709.3" r="1.6"/><circle cx="1301.3" cy="714.9" r="1.1"/><circle cx="1309.9" cy="706.4" r="2.2"/></g><g fill="#8da9cc"><circle cx="1317.1" cy="724.2" r="2.2"/><circle cx="1316.9" cy="706.6" r="1.3"/><circle cx="1319.8" cy="702.5" r="1.6"/><circle cx="1325.0" cy="714.3" r="2.1"/><circle cx="1322.5" cy="705.4" r="2.1"/><circle cx="1317.7" cy="698.8" r="1.0"/><circle cx="1317.8" cy="712.4" r="1.4"/><circle cx="1310.1" cy="709.0" r="1.4"/><circle cx="1323.5" cy="724.9" r="1.1"/><circle cx="1327.4" cy="720.8" r="2.1"/><circle cx="1313.4" cy="709.9" r="1.5"/><circle cx="1314.9" cy="711.7" r="1.3"/><circle cx="1325.4" cy="707.1" r="2.1"/><circle cx="1312.5" cy="706.5" r="1.6"/><circle cx="1311.2" cy="709.9" r="2.1"/><circle cx="1326.5" cy="724.0" r="1.8"/><circle cx="1319.1" cy="721.0" r="1.1"/><circle cx="1323.1" cy="712.4" r="1.9"/><circle cx="1321.2" cy="707.2" r="1.1"/><circle cx="1317.4" cy="709.0" r="1.4"/><circle cx="1312.7" cy="719.0" r="1.4"/><circle cx="1319.3" cy="710.6" r="1.2"/><circle cx="1310.6" cy="704.7" r="2.1"/><circle cx="1317.9" cy="705.0" r="2.1"/><circle cx="1328.9" cy="712.4" r="1.2"/><circle cx="1314.5" cy="700.9" r="1.3"/><circle cx="1312.7" cy="716.2" r="2.1"/><circle cx="1323.5" cy="711.2" r="1.5"/><circle cx="1318.5" cy="710.1" r="1.4"/><circle cx="1308.4" cy="706.9" r="2.2"/><circle cx="1309.8" cy="714.1" r="1.8"/><circle cx="1326.0" cy="704.9" r="1.3"/><circle cx="1312.5" cy="710.8" r="1.5"/><circle cx="1326.7" cy="713.1" r="1.7"/><circle cx="1312.5" cy="701.5" r="1.2"/><circle cx="1318.5" cy="719.8" r="2.1"/><circle cx="1322.9" cy="718.7" r="1.9"/><circle cx="1317.1" cy="715.6" r="1.0"/><circle cx="1324.2" cy="705.4" r="2.1"/><circle cx="1321.2" cy="707.7" r="1.2"/><circle cx="1312.5" cy="718.4" r="1.8"/><circle cx="1318.5" cy="716.7" r="1.5"/><circle cx="1311.9" cy="717.2" r="1.0"/><circle cx="1313.6" cy="712.7" r="2.2"/><circle cx="1321.2" cy="726.3" r="1.6"/></g><line x1="1306" y1="735" x2="1304" y2="748" stroke="#17283f" stroke-width="2"/><ellipse cx="1354" cy="703" rx="13" ry="5.5" fill="#17283f"/><ellipse cx="1370" cy="697" rx="15" ry="7" fill="#17283f"/><ellipse cx="1378" cy="698" rx="8" ry="5.5" fill="#8da9cc"/><ellipse cx="1397" cy="708" rx="13" ry="5.5" fill="#17283f"/><ellipse cx="1404" cy="708" rx="7" ry="5" fill="#8da9cc"/><circle cx="1372.7" cy="715.2" r="5" fill="#17283f"/><path d="M1372.7,710.2 A5,5 0 0 1 1372.7,720.2 Z" fill="#8da9cc"/><path d="M1346.0,727.0 l-4.5,-4.5 l0.9,7.2 z M1346.0,727.0 l4.5,-5.4 l-0.9,8.1 z" fill="#17283f"/><path d="M1357.0,740.0 l-4.5,-4.5 l0.9,7.2 z M1357.0,740.0 l4.5,-5.4 l-0.9,8.1 z" fill="#17283f"/><path d="M1394.0,785.0 l-4.0,-4.0 l0.8,6.4 z M1394.0,785.0 l4.0,-4.8 l-0.8,7.2 z" fill="#17283f"/><path d="M1413.0,778.0 l-5.0,-5.0 l1.0,8.0 z M1413.0,778.0 l5.0,-6.0 l-1.0,9.0 z" fill="#17283f"/><path d="M1403.0,797.0 l-4.5,-4.5 l0.9,7.2 z M1403.0,797.0 l4.5,-5.4 l-0.9,8.1 z" fill="#17283f"/><path d="M1317,752 L1330,739 L1345,752 L1341,764 L1320,760 Z" fill="#17283f"/><path d="M1330,739 L1345,752 L1341,764 L1333,760 Z" fill="#8da9cc"/><rect x="1321.0" y="751.0" width="2.0" height="2.0" fill="#fff"/><rect x="1321.0" y="753.7" width="2.0" height="2.0" fill="#fff"/><rect x="1323.7" y="751.0" width="2.0" height="2.0" fill="#fff"/><rect x="1323.7" y="753.7" width="2.0" height="2.0" fill="#fff"/><path d="M1343,778 l8,-16 l5,3 l-6,18 z M1355,784 l8,-12 l5,3 l-6,16 z" fill="#17283f"/><circle cx="1351" cy="761" r="3" fill="#8da9cc"/><circle cx="1364" cy="770" r="3" fill="#8da9cc"/><g fill="none" stroke="#8da9cc" stroke-width="1.3"><circle cx="1368" cy="800" r="6"/><circle cx="1377" cy="817" r="6"/></g><g fill="#8da9cc"><circle cx="1403.1" cy="816.4" r="2.2"/><circle cx="1415.3" cy="818.7" r="1.0"/><circle cx="1410.0" cy="832.6" r="1.5"/><circle cx="1403.7" cy="832.4" r="2.1"/><circle cx="1405.8" cy="823.0" r="1.8"/><circle cx="1402.2" cy="837.3" r="1.9"/><circle cx="1410.1" cy="814.8" r="2.2"/><circle cx="1405.1" cy="838.2" r="1.3"/><circle cx="1402.8" cy="835.9" r="1.4"/><circle cx="1421.8" cy="825.8" r="1.2"/><circle cx="1402.8" cy="822.8" r="1.8"/><circle cx="1407.2" cy="815.1" r="2.2"/><circle cx="1398.6" cy="821.9" r="2.1"/><circle cx="1420.0" cy="834.8" r="2.2"/><circle cx="1421.2" cy="819.5" r="1.2"/><circle cx="1397.8" cy="832.2" r="1.5"/><circle cx="1406.7" cy="819.6" r="1.2"/><circle cx="1406.1" cy="843.3" r="1.1"/><circle cx="1406.3" cy="838.2" r="2.0"/><circle cx="1408.2" cy="808.9" r="1.6"/><circle cx="1406.7" cy="841.9" r="1.2"/><circle cx="1406.5" cy="841.1" r="1.0"/><circle cx="1407.7" cy="837.8" r="1.9"/><circle cx="1403.7" cy="835.4" r="2.1"/><circle cx="1405.8" cy="817.3" r="2.1"/><circle cx="1413.0" cy="817.0" r="1.9"/><circle cx="1405.2" cy="817.5" r="1.0"/><circle cx="1416.6" cy="841.8" r="1.8"/><circle cx="1403.1" cy="825.1" r="2.1"/><circle cx="1421.8" cy="821.7" r="1.3"/><circle cx="1408.2" cy="825.8" r="2.1"/><circle cx="1401.8" cy="837.5" r="1.9"/><circle cx="1418.4" cy="836.4" r="1.7"/><circle cx="1405.5" cy="819.1" r="1.4"/><circle cx="1402.1" cy="835.6" r="1.3"/><circle cx="1411.4" cy="819.4" r="2.2"/><circle cx="1403.9" cy="810.2" r="1.1"/><circle cx="1410.0" cy="834.0" r="1.5"/><circle cx="1403.1" cy="822.8" r="1.7"/><circle cx="1414.5" cy="835.4" r="2.0"/><circle cx="1414.3" cy="811.6" r="2.0"/><circle cx="1404.6" cy="828.5" r="1.4"/><circle cx="1416.2" cy="814.6" r="1.3"/><circle cx="1403.4" cy="812.8" r="2.1"/><circle cx="1412.0" cy="819.4" r="1.5"/><circle cx="1422.8" cy="826.3" r="1.3"/><circle cx="1418.0" cy="831.8" r="2.2"/><circle cx="1399.7" cy="825.0" r="2.0"/><circle cx="1400.1" cy="814.2" r="2.2"/><circle cx="1412.2" cy="842.3" r="1.4"/><circle cx="1419.5" cy="824.1" r="1.3"/><circle cx="1399.8" cy="829.7" r="1.7"/><circle cx="1402.7" cy="821.0" r="1.2"/><circle cx="1402.3" cy="816.7" r="1.7"/><circle cx="1413.9" cy="814.7" r="1.0"/><circle cx="1405.5" cy="832.8" r="1.2"/><circle cx="1405.1" cy="814.7" r="2.0"/><circle cx="1411.2" cy="809.4" r="1.1"/><circle cx="1407.3" cy="827.9" r="1.8"/><circle cx="1415.1" cy="822.6" r="1.3"/></g><g fill="#17283f"><circle cx="1395.1" cy="834.9" r="1.4"/><circle cx="1397.7" cy="820.6" r="1.5"/><circle cx="1395.6" cy="816.7" r="1.9"/><circle cx="1401.0" cy="822.2" r="2.0"/><circle cx="1396.1" cy="833.2" r="1.6"/><circle cx="1397.5" cy="827.4" r="2.1"/><circle cx="1392.9" cy="826.9" r="1.4"/><circle cx="1397.0" cy="815.5" r="1.3"/><circle cx="1397.2" cy="834.2" r="1.1"/><circle cx="1396.9" cy="831.3" r="2.2"/><circle cx="1394.0" cy="815.0" r="2.1"/><circle cx="1401.8" cy="823.6" r="1.1"/><circle cx="1401.3" cy="821.3" r="2.1"/><circle cx="1398.2" cy="831.8" r="1.2"/><circle cx="1399.9" cy="817.3" r="1.5"/></g><line x1="1388" y1="842" x2="1400" y2="838" stroke="#17283f" stroke-width="1.5"/><rect x="1373.5" y="845.7" width="20.9" height="35.1" fill="#17283f"/><rect x="1394.4" y="847.4" width="26.8" height="21.7" fill="#8da9cc"/><rect x="1421.2" y="855.7" width="10.8" height="10.3" fill="#8da9cc"/><rect x="1376.0" y="857.0" width="2.2" height="2.2" fill="#fff"/><rect x="1376.0" y="860.0" width="2.2" height="2.2" fill="#fff"/><rect x="1379.0" y="857.0" width="2.2" height="2.2" fill="#fff"/><rect x="1379.0" y="860.0" width="2.2" height="2.2" fill="#fff"/><rect x="1406.0" y="851.0" width="2.2" height="2.2" fill="#fff"/><rect x="1406.0" y="854.0" width="2.2" height="2.2" fill="#fff"/><rect x="1409.0" y="851.0" width="2.2" height="2.2" fill="#fff"/><rect x="1409.0" y="854.0" width="2.2" height="2.2" fill="#fff"/><line x1="1372.0" y1="905.0" x2="1372.0" y2="889.0" stroke="#17283f" stroke-width="1.2"/><line x1="1372.0" y1="889.0" x2="1372.0" y2="881.8" stroke="#17283f" stroke-width="1"/><line x1="1372.0" y1="889.0" x2="1365.8" y2="892.6" stroke="#17283f" stroke-width="1"/><line x1="1372.0" y1="889.0" x2="1378.2" y2="892.6" stroke="#17283f" stroke-width="1"/><line x1="1382.0" y1="912.0" x2="1382.0" y2="896.0" stroke="#17283f" stroke-width="1.2"/><line x1="1382.0" y1="896.0" x2="1382.0" y2="888.8" stroke="#17283f" stroke-width="1"/><line x1="1382.0" y1="896.0" x2="1375.8" y2="899.6" stroke="#17283f" stroke-width="1"/><line x1="1382.0" y1="896.0" x2="1388.2" y2="899.6" stroke="#17283f" stroke-width="1"/><line x1="1390.0" y1="905.0" x2="1390.0" y2="889.0" stroke="#17283f" stroke-width="1.2"/><line x1="1390.0" y1="889.0" x2="1390.0" y2="881.8" stroke="#17283f" stroke-width="1"/><line x1="1390.0" y1="889.0" x2="1383.8" y2="892.6" stroke="#17283f" stroke-width="1"/><line x1="1390.0" y1="889.0" x2="1396.2" y2="892.6" stroke="#17283f" stroke-width="1"/><path d="M1340,935 L1352,912 L1368,918 L1366,940 L1346,948 Z" fill="#17283f"/><path d="M1352,912 L1368,918 L1366,940 Z" fill="#8da9cc"/><circle cx="1345" cy="937" r="4" fill="#8da9cc"/><circle cx="1356" cy="914" r="4" fill="#8da9cc"/><path d="M1373,952 C1362,944 1364,936 1369,936 C1372,936 1373,939 1373,941 C1373,939 1375,936 1378,936 C1383,936 1384,944 1373,952 Z" fill="#17283f"/><path d="M1373,952 C1384,944 1383,936 1378,936 C1375,936 1373,939 1373,941 Z" fill="#8da9cc"/><circle cx="1357.6" cy="994.6" r="2.5" fill="#8da9cc"/><path d="M1233.6,998.5 L1228.4,986.8 C1225.4,987.4 1216.3,990.1 1210.3,990.7 C1204.3,991.4 1197.9,992.2 1192.3,990.7 C1186.7,989.2 1180.5,985.6 1176.8,981.7 C1173.1,977.8 1171.6,971.8 1170.3,967.5 C1169.0,963.2 1170.1,959.1 1169.0,955.9 C1167.9,952.7 1164.5,950.2 1163.9,948.1 C1163.3,946.0 1165.4,944.9 1165.2,943.0 C1165.0,941.1 1162.4,938.6 1162.6,936.5 C1162.8,934.4 1166.5,932.5 1166.5,930.1 C1166.5,927.7 1165.8,924.7 1162.6,922.3 C1159.4,919.9 1149.9,918.7 1147.1,915.9 C1144.3,913.1 1144.7,909.4 1145.8,905.5 C1146.9,901.6 1150.4,897.3 1153.6,892.6 C1156.8,887.9 1162.8,881.8 1165.2,877.1 C1167.6,872.4 1168.2,868.1 1167.8,864.2 C1167.4,860.3 1164.1,857.8 1162.6,853.9 C1161.1,850.0 1158.9,846.6 1158.7,841.0 C1158.5,835.4 1159.2,828.0 1161.3,820.3 C1163.4,812.5 1166.4,803.1 1171.6,794.5 C1176.8,785.9 1183.7,776.2 1192.3,768.7 C1200.9,761.2 1211.2,753.6 1223.3,749.4 C1235.3,745.2 1257.7,744.4 1264.6,743.4" fill="none" stroke="#14304d" stroke-width="4.8" stroke-linejoin="round"/><path d="M1264.6,743.4 C1270.6,744.4 1289.5,745.6 1300.7,749.4 C1311.9,753.2 1323.1,758.6 1331.7,766.1 C1340.3,773.6 1346.5,785.5 1352.3,794.5 C1358.1,803.5 1363.3,812.5 1366.5,820.3 C1369.7,828.0 1371.0,833.7 1371.7,841.0 C1372.4,848.3 1371.9,856.0 1370.4,864.2 C1368.9,872.4 1366.0,882.2 1362.6,890.0 C1359.1,897.8 1354.0,903.8 1349.7,910.7 C1345.4,917.6 1340.0,924.8 1336.8,931.3 C1333.6,937.8 1331.5,942.9 1330.4,949.4 C1329.3,955.9 1329.3,963.2 1330.4,970.1 C1331.5,977.0 1334.9,986.0 1336.8,990.7 C1338.7,995.4 1341.1,997.2 1342.0,998.5" fill="none" stroke="#8da9cc" stroke-width="4.8"/></g><path d="M1249.5,445 L1262,472" stroke="#5868d0" stroke-width="1.3" opacity="0.8"/><g fill="url(#gg)" filter="url(#gsh)"><path fill-rule="evenodd" d="M1014.7,554.2 L1032.8,554.0 L1034.8,576.4 L1016.9,579.4 A37.0,37.0 0 0 1 1011.5,591.0 L1020.7,606.6 L1002.3,619.5 L990.8,605.5 A37.0,37.0 0 0 1 978.0,606.7 L969.1,622.4 L948.7,612.9 L955.0,596.0 A37.0,37.0 0 0 1 947.7,585.4 L929.6,585.6 L927.6,563.2 L945.5,560.2 A37.0,37.0 0 0 1 950.9,548.6 L941.7,533.0 L960.1,520.1 L971.6,534.1 A37.0,37.0 0 0 1 984.4,532.9 L993.3,517.2 L1013.7,526.7 L1007.4,543.6 A37.0,37.0 0 0 1 1014.7,554.2 Z M999.2,569.8 A18.0,18.0 0 1 0 963.2,569.8 A18.0,18.0 0 1 0 999.2,569.8 Z"/><path fill-rule="evenodd" d="M1147.3,613.8 L1165.4,613.3 L1167.7,635.6 L1149.9,639.0 A37.0,37.0 0 0 1 1144.7,650.7 L1154.1,666.1 L1136.0,679.3 L1124.2,665.6 A37.0,37.0 0 0 1 1111.4,666.9 L1102.8,682.8 L1082.3,673.7 L1088.3,656.6 A37.0,37.0 0 0 1 1080.7,646.2 L1062.6,646.7 L1060.3,624.4 L1078.1,621.0 A37.0,37.0 0 0 1 1083.3,609.3 L1073.9,593.9 L1092.0,580.7 L1103.8,594.4 A37.0,37.0 0 0 1 1116.6,593.1 L1125.2,577.2 L1145.7,586.3 L1139.7,603.4 A37.0,37.0 0 0 1 1147.3,613.8 Z M1132.0,630.0 A18.0,18.0 0 1 0 1096.0,630.0 A18.0,18.0 0 1 0 1132.0,630.0 Z"/><path fill-rule="evenodd" d="M1164.6,490.0 L1182.7,502.1 L1171.6,528.9 L1150.2,524.6 A68.0,68.0 0 0 1 1139.3,535.5 L1143.6,556.9 L1116.8,568.0 L1104.7,549.9 A68.0,68.0 0 0 1 1089.3,549.9 L1077.2,568.0 L1050.4,556.9 L1054.7,535.5 A68.0,68.0 0 0 1 1043.8,524.6 L1022.4,528.9 L1011.3,502.1 L1029.4,490.0 A68.0,68.0 0 0 1 1029.4,474.6 L1011.3,462.5 L1022.4,435.7 L1043.8,440.0 A68.0,68.0 0 0 1 1054.7,429.1 L1050.4,407.7 L1077.2,396.6 L1089.3,414.7 A68.0,68.0 0 0 1 1104.7,414.7 L1116.8,396.6 L1143.6,407.7 L1139.3,429.1 A68.0,68.0 0 0 1 1150.2,440.0 L1171.6,435.7 L1182.7,462.5 L1164.6,474.6 A68.0,68.0 0 0 1 1164.6,490.0 Z M1132.4,482.3 A35.4,35.4 0 1 0 1061.6,482.3 A35.4,35.4 0 1 0 1132.4,482.3 Z"/></g><g font-family="Liberation Sans" fill="#000"><text x="145.28" y="460.80" font-size="42.50" font-weight="bold" textLength="246.34" lengthAdjust="spacingAndGlyphs" xml:space="preserve">Intrapersonal</text><text x="1367.21" y="185.80" font-size="42.50" font-weight="bold" textLength="243.27" lengthAdjust="spacingAndGlyphs" xml:space="preserve">Interpersonal</text><text x="1451.88" y="683.00" font-size="42.50" font-weight="bold" textLength="351.89" lengthAdjust="spacingAndGlyphs" xml:space="preserve">Socioeconomic and</text><text x="1450.23" y="737.20" font-size="42.50" font-weight="bold" textLength="274.67" lengthAdjust="spacingAndGlyphs" xml:space="preserve">Environmental</text><text x="894.10" y="509.70" font-size="54.00" font-weight="bold" textLength="380.52" lengthAdjust="spacingAndGlyphs" xml:space="preserve">Determinants of</text><text x="860.31" y="611.80" font-size="54.00" font-weight="bold" textLength="447.69" lengthAdjust="spacingAndGlyphs" xml:space="preserve">Exercise Adherence</text><text x="109.76" y="561.80" font-size="29.00" font-weight="normal" textLength="323.36" lengthAdjust="spacingAndGlyphs" xml:space="preserve" stroke="#000" stroke-width="0.35">Baseline physical activity</text><text x="109.49" y="601.80" font-size="29.00" font-weight="normal" textLength="265.83" lengthAdjust="spacingAndGlyphs" xml:space="preserve" stroke="#000" stroke-width="0.35">Self-reported health</text><text x="109.72" y="639.90" font-size="29.00" font-weight="normal" textLength="180.35" lengthAdjust="spacingAndGlyphs" xml:space="preserve" stroke="#000" stroke-width="0.35">Health beliefs</text><text x="109.54" y="680.00" font-size="29.00" font-weight="normal" textLength="145.82" lengthAdjust="spacingAndGlyphs" xml:space="preserve" stroke="#000" stroke-width="0.35">Motivation</text><text x="110.22" y="717.80" font-size="29.00" font-weight="normal" textLength="486.65" lengthAdjust="spacingAndGlyphs" xml:space="preserve" stroke="#000" stroke-width="0.35">Emotional and physical determinants</text><text x="110.50" y="757.80" font-size="29.00" font-weight="normal" textLength="468.19" lengthAdjust="spacingAndGlyphs" xml:space="preserve" stroke="#000" stroke-width="0.35">Age and  time-related determinants</text><text x="109.36" y="795.80" font-size="29.00" font-weight="normal" textLength="156.48" lengthAdjust="spacingAndGlyphs" xml:space="preserve" stroke="#000" stroke-width="0.35">Self-efficacy</text><text x="1411.16" y="249.80" font-size="29.00" font-weight="normal" textLength="332.29" lengthAdjust="spacingAndGlyphs" xml:space="preserve" stroke="#000" stroke-width="0.35">Family and social support</text><text x="1411.27" y="290.00" font-size="29.00" font-weight="normal" textLength="133.04" lengthAdjust="spacingAndGlyphs" xml:space="preserve" stroke="#000" stroke-width="0.35">Physicians</text><text x="1476.55" y="791.80" font-size="29.00" font-weight="normal" textLength="315.42" lengthAdjust="spacingAndGlyphs" xml:space="preserve" stroke="#000" stroke-width="0.35">Educational background</text><text x="1475.83" y="831.80" font-size="29.00" font-weight="normal" textLength="302.83" lengthAdjust="spacingAndGlyphs" xml:space="preserve" stroke="#000" stroke-width="0.35">Socioeconomic income</text><text x="1476.71" y="869.60" font-size="29.00" font-weight="normal" textLength="281.75" lengthAdjust="spacingAndGlyphs" xml:space="preserve" stroke="#000" stroke-width="0.35">Logistic determinants</text><text x="1476.70" y="910.10" font-size="29.00" font-weight="normal" textLength="225.60" lengthAdjust="spacingAndGlyphs" xml:space="preserve" stroke="#000" stroke-width="0.35">Exercise program</text><text x="1476.66" y="947.70" font-size="29.00" font-weight="normal" textLength="185.46" lengthAdjust="spacingAndGlyphs" xml:space="preserve" stroke="#000" stroke-width="0.35">Health system</text></g><circle cx="88.2" cy="550.5" r="4.2" fill="#000"/><circle cx="88.2" cy="590.5" r="4.2" fill="#000"/><circle cx="88.2" cy="628.6" r="4.2" fill="#000"/><circle cx="88.2" cy="668.7" r="4.2" fill="#000"/><circle cx="88.2" cy="706.5" r="4.2" fill="#000"/><circle cx="88.2" cy="746.5" r="4.2" fill="#000"/><circle cx="88.2" cy="784.5" r="4.2" fill="#000"/><circle cx="1371.3" cy="238.4" r="4.2" fill="#000"/><circle cx="1371.3" cy="278.6" r="4.2" fill="#000"/><circle cx="1454.7" cy="780.6" r="4.2" fill="#000"/><circle cx="1454.7" cy="820.6" r="4.2" fill="#000"/><circle cx="1454.7" cy="858.5" r="4.2" fill="#000"/><circle cx="1454.7" cy="899.0" r="4.2" fill="#000"/><circle cx="1454.7" cy="936.6" r="4.2" fill="#000"/></svg></body></html>
